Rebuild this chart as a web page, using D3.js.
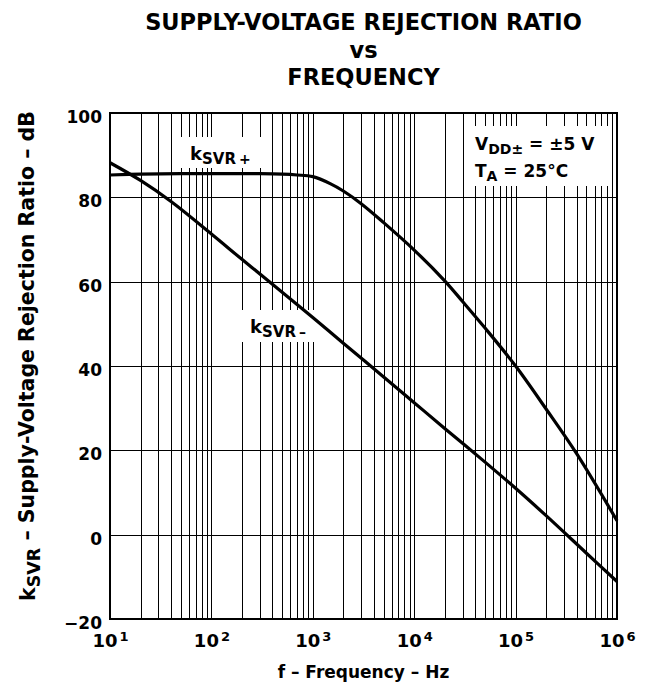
<!DOCTYPE html>
<html>
<head>
<meta charset="utf-8">
<script src="https://cdn.jsdelivr.net/npm/d3@7"></script>
<style>
  html, body { margin: 0; padding: 0; background: #fff; }
  svg { display: block; }
  text { font-family: "DejaVu Sans", "Liberation Sans", Arial, sans-serif; font-weight: bold; fill: #000; }
</style>
</head>
<body>
<svg id="chart" width="648" height="683"></svg>
<script>
// Supply-voltage rejection ratio vs frequency, VDD± = ±5 V, TA = 25 °C
const freqPlus  = [10, 20, 50, 100, 300, 500, 700, 1000, 1500, 2000, 3000, 5000, 1e4, 2e4, 3e4, 5e4, 1e5, 2e5, 4e5, 1e6];
const ksvrPlus  = [85.3, 85.5, 85.6, 85.6, 85.6, 85.5, 85.3, 84.9, 83.2, 81.5, 78.5, 74.0, 67.5, 60.2, 55.3, 49.0, 40, 29.8, 19.2, 3.3];

const freqMinus = [10, 20, 40, 100, 200, 400, 1000, 2000, 5000, 1e4, 2e4, 5e4, 1e5, 2e5, 5e5, 1e6];
const ksvrMinus = [88.2, 84.0, 79.0, 71.3, 65.3, 59.4, 51.5, 45.4, 37.4, 31.3, 25.2, 17.2, 11.0, 4.5, -4.4, -11.1];

const yTicks = [-20, 0, 20, 40, 60, 80, 100];
const xDecades = [1, 2, 3, 4, 5, 6];   // exponents of the labelled decades

const svg = d3.select("#chart");
const margin = { left: 110, top: 113, right: 31, bottom: 64 };
const W = 648 - margin.left - margin.right;
const H = 683 - margin.top - margin.bottom;

const x = d3.scaleLog().domain([10, 1e6]).range([0, W]);
const y = d3.scaleLinear().domain([-20, 100]).range([H, 0]);

const g = svg.append("g").attr("transform", `translate(${margin.left},${margin.top})`);

// log grid: 1..9 within every decade
const vGrid = [];
for (let d = 1; d < 6; d++) for (let k = 1; k < 10; k++) vGrid.push(k * Math.pow(10, d));
vGrid.push(1e6);

g.append("g").selectAll("line").data(vGrid).join("line")
  .attr("x1", d => Math.round(x(d)) + 0.5).attr("x2", d => Math.round(x(d)) + 0.5)
  .attr("y1", 0).attr("y2", H)
  .attr("stroke", "#000").attr("stroke-width", 1);

g.append("g").selectAll("line").data(yTicks).join("line")
  .attr("x1", 0).attr("x2", W)
  .attr("y1", d => Math.round(y(d)) + 0.5).attr("y2", d => Math.round(y(d)) + 0.5)
  .attr("stroke", "#000").attr("stroke-width", 1);

// white panels behind the in-plot labels
const panels = [
  { x0: 176, y0: 137, x1: 266, y1: 168 },   // kSVR+
  { x0: 233, y0: 310, x1: 318, y1: 342 },   // kSVR-
  { x0: 469, y0: 126, x1: 608, y1: 186 }    // conditions
];
g.append("g").selectAll("rect").data(panels).join("rect")
  .attr("x", d => d.x0 - margin.left).attr("y", d => d.y0 - margin.top)
  .attr("width", d => d.x1 - d.x0).attr("height", d => d.y1 - d.y0)
  .attr("fill", "#fff");

// curves
const line = d3.line().x(d => x(d[0])).y(d => y(d[1])).curve(d3.curveCatmullRom.alpha(0.5));
g.append("path").datum(d3.zip(freqPlus, ksvrPlus)).attr("d", line)
  .attr("fill", "none").attr("stroke", "#000").attr("stroke-width", 3.2);
g.append("path").datum(d3.zip(freqMinus, ksvrMinus)).attr("d", line)
  .attr("fill", "none").attr("stroke", "#000").attr("stroke-width", 3.2);

// frame
g.append("rect").attr("x", 0).attr("y", 0).attr("width", W).attr("height", H)
  .attr("fill", "none").attr("stroke", "#000").attr("stroke-width", 2);

// y axis labels
const yAxis = g.append("g").call(d3.axisLeft(y).tickValues(yTicks).tickSize(0).tickPadding(8).tickFormat(d => d < 0 ? "\u2212" + Math.abs(d) : d));
yAxis.select(".domain").remove();
yAxis.selectAll("text").attr("font-size", 17).attr("font-family", null).attr("dy", "0.55em");

// x axis labels as powers of ten
const xAxis = g.append("g").attr("transform", `translate(0,${H})`)
  .call(d3.axisBottom(x).tickValues(xDecades.map(e => Math.pow(10, e))).tickSize(0).tickPadding(15).tickFormat(() => ""));
xAxis.select(".domain").remove();
xAxis.selectAll(".tick text").attr("font-size", 18).attr("font-family", null).attr("text-anchor", "middle")
  .each(function(d) {
    const t = d3.select(this);
    t.append("tspan").text("10");
    t.append("tspan").attr("dy", "-0.45em").attr("font-size", 13).attr("dx", "2").text(Math.round(Math.log10(d)));
  });

// title
const title = svg.append("text").attr("text-anchor", "middle").attr("font-size", 22.5);
["SUPPLY-VOLTAGE REJECTION RATIO", "vs", "FREQUENCY"].forEach((s, i) => {
  title.append("tspan").attr("x", margin.left + W / 2).attr("y", 30 + i * 27.5).text(s);
});

// x axis title
svg.append("text").attr("text-anchor", "middle").attr("font-size", 17)
  .attr("x", margin.left + W / 2).attr("y", 678).text("f \u2013 Frequency \u2013 Hz");

// y axis title
const yt = svg.append("text").attr("text-anchor", "start").attr("font-size", 20.5)
  .attr("transform", `translate(35,601) rotate(-90)`);
yt.append("tspan").text("k");
yt.append("tspan").attr("dy", "0.28em").attr("font-size", 17.5).text("SVR");
yt.append("tspan").attr("dy", "-0.28em").text(" \u2013 Supply-Voltage Rejection Ratio \u2013 dB");

// curve labels
function subLabel(x0, base, sub, sign) {
  const t = svg.append("text").attr("x", x0).attr("y", base).attr("font-size", 18);
  t.append("tspan").text("k");
  t.append("tspan").attr("dy", 4).attr("font-size", 15).text(sub);
  t.append("tspan").attr("dx", 3).attr("font-size", 14).text(sign);
}
subLabel(190, 160, "SVR", "+");
subLabel(250, 333, "SVR", "\u2013");

// test conditions
const c1 = svg.append("text").attr("x", 475).attr("y", 150).attr("font-size", 17);
c1.append("tspan").text("V");
c1.append("tspan").attr("dy", 4).attr("font-size", 14).text("DD\u00B1");
c1.append("tspan").attr("dy", -4).text(" = \u00B15 V");
const c2 = svg.append("text").attr("x", 475).attr("y", 177).attr("font-size", 17);
c2.append("tspan").text("T");
c2.append("tspan").attr("dy", 4).attr("font-size", 14).text("A");
c2.append("tspan").attr("dy", -4).text(" = 25\u00B0C");
</script>
</body>
</html>
